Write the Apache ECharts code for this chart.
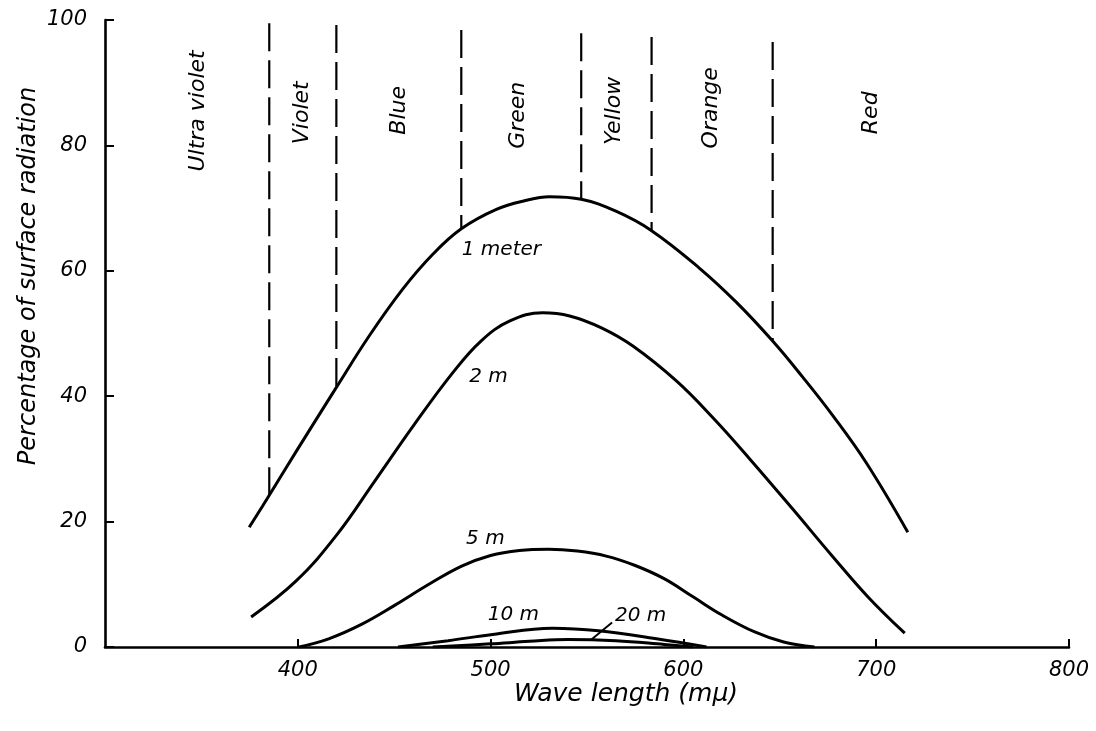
<!DOCTYPE html>
<html>
<head>
<meta charset="utf-8">
<script src="https://cdn.jsdelivr.net/npm/echarts@6/dist/echarts.min.js"></script>
<style>
html,body{margin:0;padding:0;background:#fff;}
#chart{width:1096px;height:731px;}
</style>
</head>
<body>
<div id="chart"></div>
<script>
// ---- tick labels ----
const xTicks = [300, 400, 500, 600, 700, 800];
const yTicks = [0, 20, 40, 60, 80, 100];

// ---- curves: wavelength (mμ) and percentage of surface radiation ----
const wl1m  = [374.8, 385.2, 400, 420, 437, 454.2, 469.9, 484.8, 503, 518, 530.5, 547, 565, 583.5, 608.4, 627.4, 646.3, 662, 677.5, 695, 716.4];
const pct1m = [19.1, 24.2, 31.6, 41.4, 49.6, 57.0, 62.6, 66.7, 69.8, 71.2, 71.8, 71.4, 69.5, 66.4, 60.4, 55.0, 48.8, 43.0, 36.9, 29.3, 18.3];

const wl2m  = [375.8, 399, 420, 440, 460, 480, 495, 510, 527, 541, 557.5, 573.8, 596.5, 615.2, 634.4, 656.7, 677.5, 696, 714.8];
const pct2m = [4.8, 10.5, 17.8, 26.5, 35.3, 43.6, 48.8, 52.0, 53.3, 52.8, 50.9, 48.0, 42.4, 36.6, 30.0, 22.0, 14.4, 7.9, 2.2];

const wl5m  = [400.7, 416, 433, 450, 468, 485, 500, 515, 530, 545, 560, 575, 590, 605, 620, 637, 652, 668];
const pct5m = [0, 1.3, 3.6, 6.6, 10.0, 12.9, 14.6, 15.4, 15.6, 15.3, 14.5, 13.0, 10.9, 8.0, 5.1, 2.4, 0.8, 0];

const wl10m  = [452, 478, 501, 532, 556, 586, 612];
const pct10m = [0, 1.0, 2.0, 3.0, 2.6, 1.3, 0];

const wl20m  = [470, 500, 520, 540, 565, 590, 605];
const pct20m = [0, 0.5, 0.9, 1.2, 1.0, 0.4, 0];

// ---- colour band boundaries (dashed lines) ----
const bandEdges  = [385.2, 420, 484.8, 547, 583.5, 646.3];
const edgeTop    = [99.5, 99.2, 98.4, 97.9, 97.3, 96.5];
const edgeBottom = [24.2, 41.4, 66.7, 71.4, 66.4, 48.8];

// ---- band names and their anchor (data units) ----
const bandNames  = ['Ultra violet', 'Violet', 'Blue', 'Green', 'Yellow', 'Orange', 'Red'];
const bandLabelX = [348.3, 402.3, 452.6, 514.4, 564.3, 614.6, 697.7];
const bandLabelY = [85.5, 85.2, 85.6, 84.8, 85.5, 86, 85.2];

// ---- curve labels and their anchor (data units) ----
const curveNames  = ['1 meter', '2 m', '5 m', '10 m', '20 m'];
const curveLabelX = [505.6, 498.9, 497.3, 511.8, 577.8];
const curveLabelY = [63.3, 43.1, 17.2, 5.2, 5.0];

// leader for "20 m"
const leaderX = [563, 552];
const leaderY = [3.9, 1.1];

const FONT = 'DejaVu Sans';
const INK = '#000';

function pairs(xs, ys) { return xs.map((x, i) => [x, ys[i]]); }

const curveSeries = [
  [wl1m, pct1m], [wl2m, pct2m], [wl5m, pct5m], [wl10m, pct10m], [wl20m, pct20m]
].map(([xs, ys], i) => ({
  type: 'line',
  name: curveNames[i],
  data: pairs(xs, ys),
  smooth: 0.4,
  symbol: 'none',
  lineStyle: { color: INK, width: 3 },
  z: 3
}));

const dashSeries = bandEdges.map((b, i) => ({
  type: 'line',
  data: [[b, edgeTop[i]], [b, edgeBottom[i]]],
  symbol: 'none',
  lineStyle: { color: INK, width: 2.2, type: [28, 9] },
  z: 2
}));

const labelBase = {
  show: true,
  position: 'inside',
  formatter: p => p.name,
  color: INK,
  opacity: 1,
  fontFamily: FONT,
  fontStyle: 'italic'
};

const chart = echarts.init(document.getElementById('chart'), null, { renderer: 'canvas' });
chart.setOption({
  animation: false,
  backgroundColor: '#ffffff',
  grid: { left: 105, right: 27, top: 20, bottom: 84 },
  xAxis: {
    type: 'value',
    min: xTicks[0],
    max: xTicks[xTicks.length - 1],
    interval: xTicks[1] - xTicks[0],
    axisLine: { lineStyle: { color: INK, width: 2.6 } },
    axisTick: { inside: true, length: 8, lineStyle: { color: INK, width: 2 } },
    axisLabel: {
      showMinLabel: false,
      margin: 13,
      color: INK,
      fontFamily: FONT,
      fontStyle: 'italic',
      fontSize: 21
    },
    splitLine: { show: false }
  },
  yAxis: {
    type: 'value',
    min: yTicks[0],
    max: yTicks[yTicks.length - 1],
    interval: yTicks[1] - yTicks[0],
    axisLine: { show: true, lineStyle: { color: INK, width: 2.6 } },
    axisTick: { show: true, inside: true, length: 9, lineStyle: { color: INK, width: 2 } },
    axisLabel: {
      margin: 18,
      color: INK,
      fontFamily: FONT,
      fontStyle: 'italic',
      fontSize: 21
    },
    splitLine: { show: false }
  },
  graphic: [
    {
      type: 'text',
      x: 626, y: 694,
      style: {
        text: 'Wave length (mμ)',
        font: 'italic 25px "DejaVu Sans"',
        fill: INK,
        align: 'center',
        verticalAlign: 'middle'
      }
    },
    {
      type: 'text',
      x: 29, y: 276,
      rotation: Math.PI / 2,
      style: {
        text: 'Percentage of surface radiation',
        font: 'italic 24px "DejaVu Sans"',
        fill: INK,
        align: 'center',
        verticalAlign: 'middle'
      }
    }
  ],
  series: [
    ...curveSeries,
    ...dashSeries,
    {
      type: 'line',
      data: pairs(leaderX, leaderY),
      symbol: 'none',
      lineStyle: { color: INK, width: 2 },
      z: 4
    },
    {
      type: 'scatter',
      symbolSize: 0,
      itemStyle: { opacity: 1 },
      data: bandNames.map((n, i) => ({ name: n, value: [bandLabelX[i], bandLabelY[i]] })),
      label: Object.assign({}, labelBase, { rotate: 90, fontSize: 22 }),
      z: 5
    },
    {
      type: 'scatter',
      symbolSize: 0,
      itemStyle: { opacity: 1 },
      data: curveNames.map((n, i) => ({ name: n, value: [curveLabelX[i], curveLabelY[i]] })),
      label: Object.assign({}, labelBase, { fontSize: 20 }),
      z: 5
    }
  ]
});
</script>
</body>
</html>
